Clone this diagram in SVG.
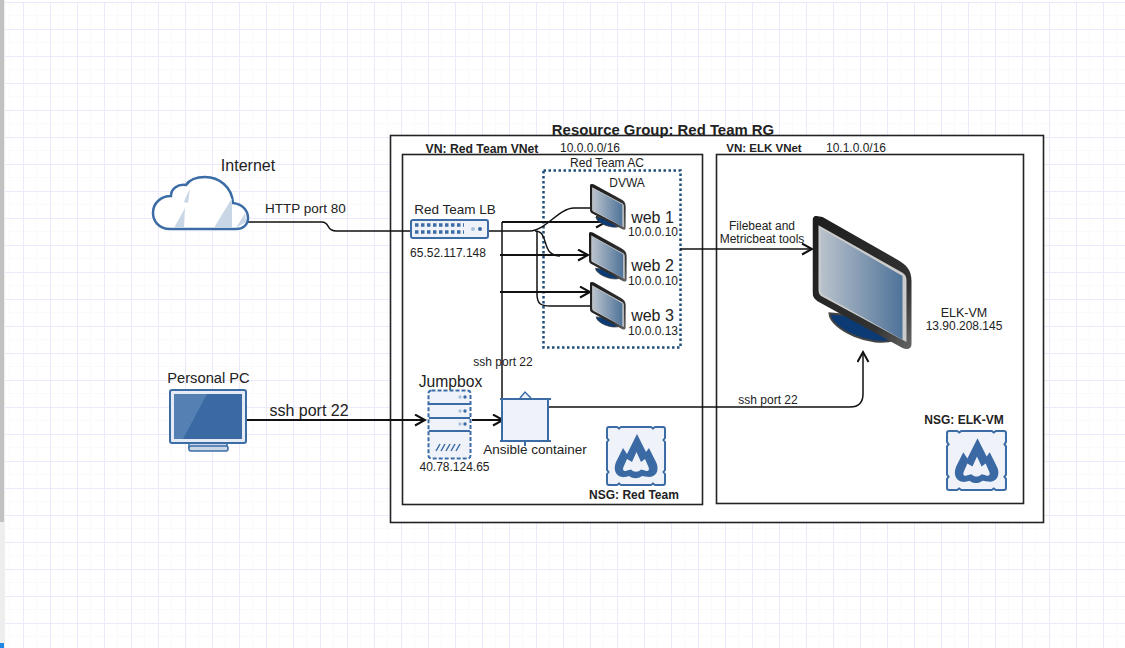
<svg xmlns="http://www.w3.org/2000/svg" width="1125" height="648" viewBox="0 0 1125 648">
<style>
text{font-family:"Liberation Sans",Arial,sans-serif;fill:#222}
.c{stroke:#111;fill:none;stroke-width:1.5}
.t{stroke:#111;fill:none;stroke-width:2}
.box{fill:none;stroke:#222;stroke-width:1.6}
.ic{fill:#eff3f9;stroke:#3c6ca6;stroke-width:2}
.b{font-weight:bold}
.m{text-anchor:middle}
</style>
<defs>
<pattern id="grid" width="27" height="27" patternUnits="userSpaceOnUse" x="23" y="2">
<path d="M13.5 0V27M0 13.5H27" stroke="#f9f9fe" stroke-width="1" fill="none"/>
<path d="M0.5 0V27M0 0.5H27" stroke="#ebe9fb" stroke-width="1" fill="none"/>
</pattern>
<linearGradient id="scr" x1="0" x2="1" y1="0" y2="0"><stop offset="0" stop-color="#b9c2cc"/><stop offset="1" stop-color="#4f7399"/></linearGradient>
<linearGradient id="bez" x1="0" x2="1" y1="0" y2="1"><stop offset="0" stop-color="#1c1c1c"/><stop offset="0.75" stop-color="#333"/><stop offset="1" stop-color="#666"/></linearGradient>
<marker id="a" markerWidth="14" markerHeight="14" refX="11" refY="6" orient="auto" markerUnits="userSpaceOnUse"><path d="M1 0.5L11 6L1 11.5" fill="none" stroke="#111" stroke-width="2"/></marker>
<symbol id="mon" viewBox="0 0 100 132" preserveAspectRatio="none">
<path d="M17 96C18 112 60 130 82 122L62 100Z" fill="#0b3a74" stroke="#444" stroke-width="2"/>
<path d="M4 0L10 1L85 43C94 48 99 53 99 64V126C99 131 95 132 90 130L5 84C1 81 0 79 0 74V5C0 2 1 0 4 0Z" fill="url(#bez)"/>
<path d="M6 9L90 56C93 58 94 60 94 64V124L9 79C7 78 6 76 6 73Z" fill="#ccc"/>
<path d="M8 12L90 59V122L10 77C8.500 76 8 75 8 73Z" fill="url(#scr)"/>
</symbol>
<symbol id="nsg" viewBox="0 0 60 60" preserveAspectRatio="none">
<path d="M3 1H11L13 2.500L15 1H45L47 2.500L49 1H57Q59 1 59 3V12L57.500 14L59 16V44L57.500 46L59 48V57Q59 59 57 59H49L47 57.500L45 59H15L13 57.500L11 59H3Q1 59 1 57V48L2.500 46L1 44V16L2.500 14L1 12V3Q1 1 3 1Z" class="ic"/>
<path fill-rule="evenodd" fill="#3a69a3" d="M31 8L40 26L43 22L50 36C53 42 52 50 44 51C40 51 38 50 36 50C32 53 27 53 23 50C20 51 16 52 13 50C8 47 8 41 10 36L17 22L21 28ZM30.500 26L26 36L21 33L17.500 41C16 44 18 46 21 44.500L25 43.500C28 46.500 32 46.500 35 43.500L39 44.500C42 46 44 44 42.500 41L39 33L35 36Z"/>
</symbol>
</defs>
<rect width="1125" height="648" fill="#fff"/>
<rect x="5" y="2" width="1120" height="646" fill="url(#grid)"/>
<rect x="0" y="0" width="5" height="648" fill="#eeeeee"/>
<rect x="0" y="0" width="4" height="522" fill="#c2c2c2"/>
<rect x="0" y="643" width="4" height="5" fill="#1e88e5"/>

<g id="resource-group">
<rect x="390.500" y="135.500" width="653" height="387" fill="#fff" stroke="#222" stroke-width="1.600"/>
<text x="663" y="135" font-size="14.900" class="b m">Resource Group: Red Team RG</text>
</g>
<g id="vnet-red">
<rect x="402.500" y="154.500" width="300" height="350" class="box"/>
<text x="482" y="153" font-size="12.200" class="b m">VN: Red Team VNet</text>
<text x="590" y="152" font-size="12" class="m">10.0.0.0/16</text>
</g>
<g id="vnet-elk">
<rect x="716.500" y="154.500" width="307" height="349" class="box"/>
<text x="764" y="152" font-size="11.500" class="b m">VN: ELK VNet</text>
<text x="856" y="152" font-size="12" class="m">10.1.0.0/16</text>
</g>
<g id="red-team-ac">
<rect x="543.500" y="170.500" width="137" height="177" fill="none" stroke="#1f4e79" stroke-width="2.500" stroke-dasharray="2.500 2.500"/>
<text x="607" y="167" font-size="12" class="m">Red Team AC</text>
<text x="627" y="187" font-size="12" class="m">DVWA</text>
</g>

<g id="connectors">
<path class="c" d="M247 222H322C330 222 326 231 336 231H412"/>
<path class="c" d="M488 231H530C545 231 559 208 574 208H590"/>
<path class="c" d="M535 231C550 231 540 256 560 256"/>
<path class="c" d="M537 231V294C537 304 541 306 550 306H591"/>
<path class="t" d="M502 222H606" marker-end="url(#a)"/>
<path class="t" d="M500 255H588" marker-end="url(#a)"/>
<path class="t" d="M500 292H590" marker-end="url(#a)"/>
<path class="c" d="M502 222V398"/>
<path class="t" d="M247 420H425" marker-end="url(#a)"/>
<path class="t" d="M472 420H503" marker-end="url(#a)"/>
<path class="c" d="M546 407H850Q863 407 863 394V352" marker-end="url(#a)"/>
<path class="c" d="M680 249H812" marker-end="url(#a)"/>
</g>

<g id="internet">
<path d="M170 229C158 229 153 220 153 213C153 203 161 196 171 196C171 189 177 184 186 185C190 179 197 177 205 177C219 177 232 187 233 203C242 204 248 210 248 218C248 225 243 229 236 229Z" fill="#fff" stroke="#3c6ca6" stroke-width="2.500"/>
<path d="M174 228L185 208L184 228ZM184 202C186 196 188 193 190 189L188 203ZM214 228C222 214 228 205 232 198V228ZM236 228L245 213L246 222Z" fill="#c9d6e6"/>
<text x="248" y="171" font-size="16" class="m">Internet</text>
</g>
<text x="305.500" y="213" font-size="13.500" class="m">HTTP port 80</text>

<g id="red-team-lb">
<rect x="411" y="220" width="77" height="18" rx="2" class="ic"/>
<path d="M415 225H464M415 232H464" stroke="#3c6ca6" stroke-width="3.500" stroke-dasharray="3.500 2.500"/>
<circle cx="473" cy="229" r="2" fill="#a9c0dc"/><circle cx="480" cy="229" r="2" fill="#3c6ca6"/>
<text x="455" y="214" font-size="13.500" class="m">Red Team LB</text>
<text x="448" y="257" font-size="12" class="m">65.52.117.148</text>
</g>

<g id="web-1"><use href="#mon" x="590" y="184" width="36" height="46"/>
<text x="652.500" y="223" font-size="16" class="m">web 1</text><text x="653" y="236" font-size="12" class="m">10.0.0.10</text></g>
<g id="web-2"><use href="#mon" x="589" y="232" width="38" height="50"/>
<text x="652.500" y="271" font-size="16" class="m">web 2</text><text x="653" y="285" font-size="12" class="m">10.0.0.10</text></g>
<g id="web-3"><use href="#mon" x="590" y="282" width="36" height="48"/>
<text x="652.500" y="321" font-size="16" class="m">web 3</text><text x="653" y="335" font-size="12" class="m">10.0.0.13</text></g>

<g id="elk-vm"><use href="#mon" x="812.500" y="216" width="100" height="134"/>
<text x="964" y="317" font-size="12.500" class="m">ELK-VM</text>
<text x="964" y="330" font-size="12" class="m">13.90.208.145</text></g>

<g id="personal-pc">
<text x="208.500" y="383" font-size="14.700" class="m">Personal PC</text>
<rect x="189" y="442" width="38" height="6" fill="#c9d6e6" stroke="#3c6ca6" stroke-width="1.500"/>
<rect x="189" y="446" width="39" height="5" rx="2" fill="#c9d6e6" stroke="#3c6ca6" stroke-width="1.500"/>
<rect x="170" y="390" width="76" height="53" rx="2" fill="#e4ebf4" stroke="#3c6ca6" stroke-width="2"/>
<rect x="174" y="394" width="68" height="45" fill="#3a69a3"/>
<path d="M174 394H207L183 439H174Z" fill="#5580b3"/>
</g>
<text x="309" y="416" font-size="16" class="m">ssh port 22</text>

<g id="jumpbox">
<text x="450.500" y="387" font-size="15.700" class="m">Jumpbox</text>
<rect x="428.500" y="390.500" width="42" height="68" rx="3" fill="#eff3f9" stroke="#3c6ca6" stroke-width="2" stroke-dasharray="4 2"/>
<path d="M429 404H470M429 418H470M429 431H470" stroke="#3c6ca6" stroke-width="2"/>
<g fill="#3c6ca6"><circle cx="465" cy="397" r="1.700"/><circle cx="465" cy="411" r="1.700"/><circle cx="465" cy="424" r="1.700"/></g>
<g fill="#a9c0dc"><circle cx="460" cy="397" r="1.700"/><circle cx="460" cy="411" r="1.700"/><circle cx="460" cy="424" r="1.700"/></g>
<path d="M436 451L440 444M441 451L445 444M446 451L450 444M451 451L455 444M456 451L460 444" stroke="#3c6ca6" stroke-width="1.500"/>
<text x="454.500" y="471" font-size="12" class="m">40.78.124.65</text>
</g>

<g id="ansible-container">
<path d="M520 398L525 392L531 398" fill="#eff3f9" stroke="#3c6ca6" stroke-width="1.500"/>
<rect x="502" y="399" width="46" height="42" class="ic"/>
<path d="M500 399H551M500 441H551M525 441V446" stroke="#3c6ca6" stroke-width="2" fill="none"/>
<text x="535" y="454" font-size="13.500" class="m">Ansible container</text>
</g>
<text x="503" y="366" font-size="12" class="m">ssh port 22</text>
<text x="768" y="404" font-size="12" class="m">ssh port 22</text>
<text x="762" y="230" font-size="12" class="m">Filebeat and</text>
<text x="762" y="243" font-size="12" class="m">Metricbeat tools</text>

<g id="nsg-red"><use href="#nsg" x="606" y="426" width="60" height="60"/>
<text x="634" y="499" font-size="12" class="b m">NSG: Red Team</text></g>
<g id="nsg-elk"><use href="#nsg" x="946" y="430" width="61" height="61"/>
<text x="964" y="424" font-size="12" class="b m">NSG: ELK-VM</text></g>
</svg>
